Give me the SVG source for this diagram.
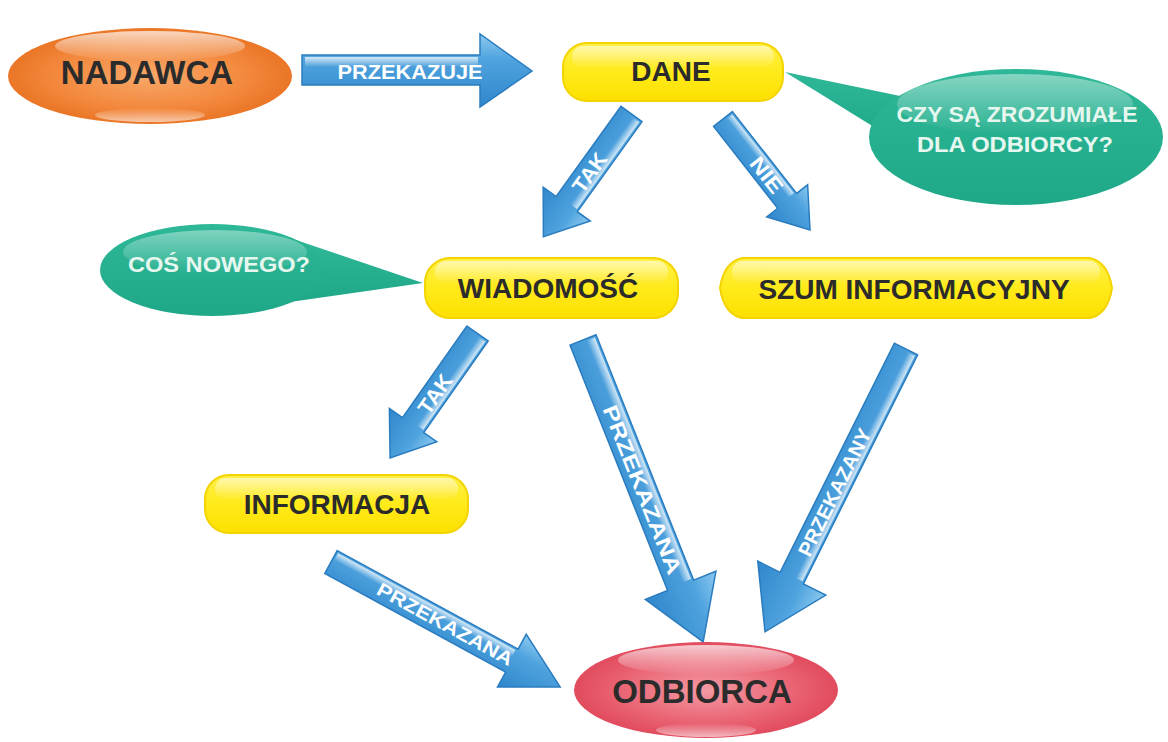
<svg xmlns="http://www.w3.org/2000/svg" width="1168" height="742" viewBox="0 0 1168 742">
  <defs>
    <style>
      .node-label { font-family: "Liberation Sans", Arial, sans-serif; font-weight: bold; fill: #2b2b2b; text-anchor: middle; }
      .bubble-label { font-family: "Liberation Sans", Arial, sans-serif; font-weight: bold; fill: #e6f7f0; text-anchor: middle; font-size: 22px; }
      .arrow-label { font-family: "Liberation Sans", Arial, sans-serif; font-weight: bold; fill: #ffffff; text-anchor: middle; dominant-baseline: central; }
      .arrow-body { fill: url(#blueGrad); stroke: #2a7cbf; stroke-width: 1.5; stroke-linejoin: miter; }
      .arrow-shine { fill: url(#shineGrad); }
      .pill { fill: url(#yellowGrad); stroke: #f3d400; stroke-width: 2; }
      .pill-shine { fill: url(#pillShine); }
      .bubble { fill: url(#tealGrad); }
    </style>
    <linearGradient id="blueGrad" x1="0" y1="0" x2="0" y2="1">
      <stop offset="0" stop-color="#8ccaf0"/>
      <stop offset="0.35" stop-color="#4fa3de"/>
      <stop offset="1" stop-color="#2f86cb"/>
    </linearGradient>
    <linearGradient id="shineGrad" x1="0" y1="0" x2="0" y2="1">
      <stop offset="0" stop-color="#ffffff" stop-opacity="0.75"/>
      <stop offset="1" stop-color="#ffffff" stop-opacity="0"/>
    </linearGradient>
    <linearGradient id="yellowGrad" x1="0" y1="0" x2="0" y2="1">
      <stop offset="0" stop-color="#fff04a"/>
      <stop offset="0.5" stop-color="#ffea1a"/>
      <stop offset="1" stop-color="#fde000"/>
    </linearGradient>
    <linearGradient id="pillShine" x1="0" y1="0" x2="0" y2="1">
      <stop offset="0" stop-color="#ffffff" stop-opacity="0.55"/>
      <stop offset="1" stop-color="#ffffff" stop-opacity="0"/>
    </linearGradient>
    <radialGradient id="orangeGrad" cx="0.5" cy="0.5" r="0.55">
      <stop offset="0" stop-color="#f8a86a"/>
      <stop offset="0.6" stop-color="#f3893e"/>
      <stop offset="1" stop-color="#e8701f"/>
    </radialGradient>
    <radialGradient id="redGrad" cx="0.5" cy="0.5" r="0.55">
      <stop offset="0" stop-color="#f39aa3"/>
      <stop offset="0.6" stop-color="#ea6474"/>
      <stop offset="1" stop-color="#de4457"/>
    </radialGradient>
    <linearGradient id="tealGrad" x1="0" y1="0" x2="0" y2="1">
      <stop offset="0" stop-color="#2fb897"/>
      <stop offset="1" stop-color="#1fa888"/>
    </linearGradient>
    <linearGradient id="glossGrad" x1="0" y1="0" x2="0" y2="1">
      <stop offset="0" stop-color="#ffffff" stop-opacity="0.7"/>
      <stop offset="1" stop-color="#ffffff" stop-opacity="0"/>
    </linearGradient>
    <linearGradient id="glossUp" x1="0" y1="1" x2="0" y2="0">
      <stop offset="0" stop-color="#ffffff" stop-opacity="0.6"/>
      <stop offset="1" stop-color="#ffffff" stop-opacity="0"/>
    </linearGradient>
  </defs>

  <rect width="1168" height="742" fill="#ffffff"/>

  <!-- connectors: glossy blue block arrows, drawn in local coordinates pointing along +x -->
  <g id="connectors">
    <g id="arrow-przekazuje" transform="translate(302,70)">
      <path class="arrow-body" d="M0,-15 L178,-15 L178,-36 L230,1 L178,37 L178,15 L0,15 Z"/>
      <path class="arrow-shine" d="M3,-13 L176,-13 L176,-3 L3,-3 Z"/>
      <text class="arrow-label" x="108" y="1" font-size="21" textLength="145" lengthAdjust="spacingAndGlyphs">PRZEKAZUJE</text>
    </g>
    <g id="arrow-dane-tak" transform="translate(631.5,114) rotate(125.7)">
      <path class="arrow-body" d="M0,-13 L111,-13 L111,-29 L151,0 L111,29 L111,13 L0,13 Z"/>
      <path class="arrow-shine" d="M2,-11 L109,-11 L109,-3 L2,-3 Z"/>
      <text class="arrow-label" transform="translate(72,0) rotate(180)" font-size="21" textLength="44" lengthAdjust="spacingAndGlyphs">TAK</text>
    </g>
    <g id="arrow-dane-nie" transform="translate(723,119) rotate(51.9)">
      <path class="arrow-body" d="M0,-12 L104,-12 L104,-26 L141,0 L104,26 L104,12 L0,12 Z"/>
      <path class="arrow-shine" d="M2,-10 L102,-10 L102,-3 L2,-3 Z"/>
      <text class="arrow-label" x="71" y="0" font-size="21" textLength="40" lengthAdjust="spacingAndGlyphs">NIE</text>
    </g>
    <g id="arrow-wiad-tak" transform="translate(477.5,333.5) rotate(125.1)">
      <path class="arrow-body" d="M0,-13 L112,-13 L112,-29 L152,0 L112,29 L112,13 L0,13 Z"/>
      <path class="arrow-shine" d="M2,-11 L110,-11 L110,-3 L2,-3 Z"/>
      <text class="arrow-label" transform="translate(74,0) rotate(180)" font-size="21" textLength="44" lengthAdjust="spacingAndGlyphs">TAK</text>
    </g>
    <g id="arrow-wiad-odb" transform="translate(583,340) rotate(68.3)">
      <path class="arrow-body" d="M0,-14 L264,-14 L264,-38 L325,0 L264,38 L264,14 L0,14 Z"/>
      <path class="arrow-shine" d="M2,-12 L262,-12 L262,-3 L2,-3 Z"/>
      <text class="arrow-label" x="161" y="0" font-size="21" textLength="180" lengthAdjust="spacingAndGlyphs">PRZEKAZANA</text>
    </g>
    <g id="arrow-szum-odb" transform="translate(906,349) rotate(116.5)">
      <path class="arrow-body" d="M0,-13 L256,-13 L256,-38 L316,0 L256,38 L256,13 L0,13 Z"/>
      <path class="arrow-shine" d="M2,-11 L254,-11 L254,-3 L2,-3 Z"/>
      <text class="arrow-label" transform="translate(160,0) rotate(180)" font-size="20" textLength="140" lengthAdjust="spacingAndGlyphs">PRZEKAZANY</text>
    </g>
    <g id="arrow-info-odb" transform="translate(331,562) rotate(28.6)">
      <path class="arrow-body" d="M0,-13 L206,-13 L206,-30 L261,0 L206,30 L206,13 L0,13 Z"/>
      <path class="arrow-shine" d="M2,-11 L204,-11 L204,-3 L2,-3 Z"/>
      <text class="arrow-label" x="130" y="0" font-size="19" textLength="152" lengthAdjust="spacingAndGlyphs">PRZEKAZANA</text>
    </g>
  </g>

  <!-- sender -->
  <g id="node-nadawca">
    <ellipse cx="150" cy="76" rx="142" ry="48" fill="url(#orangeGrad)"/>
    <ellipse cx="150" cy="46" rx="95" ry="15" fill="url(#glossGrad)"/>
    <ellipse cx="150" cy="115" rx="55" ry="7" fill="url(#glossUp)"/>
    <text class="node-label" x="147" y="84" font-size="33">NADAWCA</text>
  </g>

  <!-- data -->
  <g id="node-dane">
    <rect class="pill" x="563" y="43" width="220" height="58" rx="24"/>
    <rect class="pill-shine" x="572" y="46" width="202" height="22" rx="11"/>
    <text class="node-label" x="671" y="81" font-size="28">DANE</text>
  </g>

  <!-- question about data -->
  <g id="callout-zrozumiale">
    <path class="bubble" d="M785,72 L905,97 L895,140 Z"/>
    <ellipse class="bubble" cx="1016" cy="137" rx="147" ry="68"/>
    <ellipse cx="1015" cy="104" rx="118" ry="30" fill="url(#glossGrad)" opacity="0.6"/>
    <text class="bubble-label" x="1017" y="122" textLength="241" lengthAdjust="spacingAndGlyphs">CZY SĄ ZROZUMIAŁE</text>
    <text class="bubble-label" x="1015" y="152" textLength="196" lengthAdjust="spacingAndGlyphs">DLA ODBIORCY?</text>
  </g>

  <!-- question about message -->
  <g id="callout-nowego">
    <path class="bubble" d="M423,283 L296,240 L290,302 Z"/>
    <ellipse class="bubble" cx="212" cy="270" rx="112" ry="46"/>
    <ellipse cx="215" cy="252" rx="92" ry="22" fill="url(#glossGrad)" opacity="0.55"/>
    <text class="bubble-label" x="219" y="272" textLength="182" lengthAdjust="spacingAndGlyphs">COŚ NOWEGO?</text>
  </g>

  <!-- message -->
  <g id="node-wiadomosc">
    <rect class="pill" x="425" y="258" width="253" height="60" rx="25"/>
    <rect class="pill-shine" x="435" y="261" width="233" height="23" rx="11"/>
    <text class="node-label" x="548" y="298" font-size="28">WIADOMOŚĆ</text>
  </g>

  <!-- information noise -->
  <g id="node-szum">
    <path class="pill" d="M742,258 L1090,258 Q1108,262 1112,288 Q1108,314 1090,318 L742,318 Q724,314 720,288 Q724,262 742,258 Z"/>
    <rect class="pill-shine" x="732" y="261" width="368" height="23" rx="11"/>
    <text class="node-label" x="914" y="299" font-size="28">SZUM INFORMACYJNY</text>
  </g>

  <!-- information -->
  <g id="node-informacja">
    <rect class="pill" x="205" y="475" width="263" height="58" rx="24"/>
    <rect class="pill-shine" x="215" y="478" width="243" height="22" rx="11"/>
    <text class="node-label" x="337" y="514" font-size="28">INFORMACJA</text>
  </g>

  <!-- receiver -->
  <g id="node-odbiorca">
    <ellipse cx="706" cy="690" rx="132" ry="48" fill="url(#redGrad)"/>
    <ellipse cx="706" cy="660" rx="88" ry="15" fill="url(#glossGrad)"/>
    <ellipse cx="706" cy="730" rx="50" ry="7" fill="url(#glossUp)"/>
    <text class="node-label" x="702" y="703" font-size="33">ODBIORCA</text>
  </g>
</svg>
